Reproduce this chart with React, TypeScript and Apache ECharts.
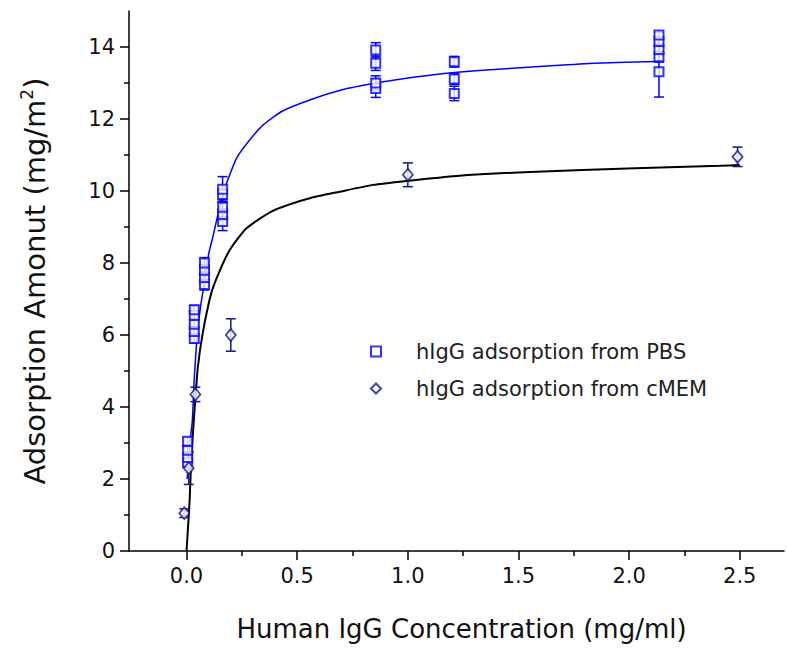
import React, { useEffect, useRef } from "react";
import * as echarts from "echarts";

// ---- Data ----
const pbsX = [0.005, 0.005, 0.005, 0.005, 0.035, 0.035, 0.035, 0.035, 0.035, 0.081, 0.081, 0.081, 0.081, 0.163, 0.163, 0.163, 0.163, 0.163, 0.855, 0.855, 0.855, 0.855, 1.21, 1.21, 1.21, 2.135, 2.135, 2.135, 2.135, 2.135];
const pbsY = [2.45, 2.6, 2.8, 3.05, 5.9, 6.1, 6.3, 6.55, 6.7, 7.4, 7.6, 7.8, 8.0, 9.15, 9.35, 9.55, 9.9, 10.05, 12.85, 13.0, 13.55, 13.92, 12.71, 13.11, 13.59, 13.31, 13.73, 13.93, 14.15, 14.33];
const pbsErr = [0.1, 0.1, 0.1, 0.1, 0.12, 0.12, 0.12, 0.12, 0.12, 0.15, 0.15, 0.15, 0.15, 0.25, 0.15, 0.15, 0.15, 0.35, 0.25, 0.2, 0.2, 0.2, 0.2, 0.15, 0.15, 0.7, 0.15, 0.15, 0.1, 0.08];

const memX = [-0.01, 0.01, 0.04, 0.2, 1.0, 2.49];
const memY = [1.05, 2.3, 4.35, 6.0, 10.45, 10.95];
const memErr = [0.12, 0.45, 0.2, 0.45, 0.33, 0.27];

const blueFitX = [0.003, 0.015, 0.026, 0.036, 0.05, 0.066, 0.085, 0.1, 0.12, 0.142, 0.165, 0.18, 0.225, 0.27, 0.345, 0.436, 0.557, 0.707, 0.858, 0.994, 1.145, 1.356, 1.628, 1.846, 2.13];
const blueFitY = [2.0, 3.0, 3.6, 4.9, 6.1, 6.9, 7.6, 8.25, 8.75, 9.35, 9.9, 10.2, 10.9, 11.3, 11.83, 12.23, 12.53, 12.82, 13.0, 13.13, 13.25, 13.36, 13.47, 13.55, 13.6];

const blackFitX = [0, 0.014, 0.021, 0.036, 0.051, 0.074, 0.112, 0.149, 0.195, 0.27, 0.39, 0.557, 0.692, 0.843, 0.994, 1.22, 1.552, 2.027, 2.412, 2.5];
const blackFitY = [0, 1.4, 2.5, 3.9, 5.1, 6.08, 7.17, 7.77, 8.36, 8.96, 9.45, 9.8, 9.98, 10.17, 10.28, 10.42, 10.53, 10.63, 10.7, 10.72];

const xTickLabels = [0, 0.5, 1, 1.5, 2, 2.5];
const xMinorTicks = [0.25, 0.75, 1.25, 1.75, 2.25];
const yTickLabels = [0, 2, 4, 6, 8, 10, 12, 14];
const yMinorTicks = [1, 3, 5, 7, 9, 11, 13];

const FONT = "DejaVu Sans";
const PBS_COLOR = "#0000ff";
const MEM_COLOR = "#14148f";

function zip(xs: number[], ys: number[], es?: number[]) {
  return xs.map((x, i) => (es ? [x, ys[i], es[i]] : [x, ys[i]]));
}

function errorRender(color: string) {
  return (params: any, api: any) => {
    const x = api.value(0);
    const y = api.value(1);
    const e = api.value(2);
    const top = api.coord([x, y + e]);
    const bot = api.coord([x, y - e]);
    const hw = 5;
    const style = { stroke: color, lineWidth: 1.5 };
    return {
      type: "group",
      children: [
        { type: "line", shape: { x1: top[0], y1: top[1], x2: bot[0], y2: bot[1] }, style },
        { type: "line", shape: { x1: top[0] - hw, y1: top[1], x2: top[0] + hw, y2: top[1] }, style },
        { type: "line", shape: { x1: bot[0] - hw, y1: bot[1], x2: bot[0] + hw, y2: bot[1] }, style },
      ],
    };
  };
}

export default function App() {
  const ref = useRef<HTMLDivElement>(null);
  useEffect(() => {
    const chart = echarts.init(ref.current!, null, { renderer: "svg" });
    const axisLabelStyle = { fontFamily: FONT, fontSize: 21, color: "#111" };
    chart.setOption({
      animation: false,
      backgroundColor: "#fff",
      grid: { left: 129, right: 3, top: 11, bottom: 97, containLabel: false },
      xAxis: [
        {
          type: "value",
          min: -0.26,
          max: 2.7,
          position: "bottom",
          axisLine: { show: true, onZero: false, lineStyle: { color: "#000", width: 1.5 } },
          axisTick: { show: true, customValues: xTickLabels, length: 9, lineStyle: { color: "#000", width: 1.5 } },
          axisLabel: { customValues: xTickLabels, formatter: (v: number) => v.toFixed(1), margin: 14, ...axisLabelStyle },
          splitLine: { show: false },
          name: "Human IgG Concentration (mg/ml)",
          nameLocation: "middle",
          nameGap: 65,
          nameTextStyle: { fontFamily: FONT, fontSize: 26, color: "#111", padding: [0, 0, 0, 10] },
        },
        {
          type: "value",
          min: -0.26,
          max: 2.7,
          position: "bottom",
          offset: 0,
          axisLine: { show: false },
          axisTick: { show: true, customValues: xMinorTicks, length: 5, lineStyle: { color: "#000", width: 1.5 } },
          axisLabel: { show: false },
          splitLine: { show: false },
        },
      ],
      yAxis: [
        {
          type: "value",
          min: 0,
          max: 15,
          position: "left",
          axisLine: { show: true, onZero: false, lineStyle: { color: "#000", width: 1.5 } },
          axisTick: { show: true, customValues: yTickLabels, length: 9, lineStyle: { color: "#000", width: 1.5 } },
          axisLabel: { customValues: yTickLabels, margin: 14, ...axisLabelStyle },
          splitLine: { show: false },
          name: "{a|Adsorption Amonut (mg/m}{s|2}{a|)}",
          nameLocation: "middle",
          nameGap: 78,
          nameTextStyle: {
            rich: {
              a: { fontFamily: FONT, fontSize: 29, color: "#111" },
              s: { fontFamily: FONT, fontSize: 17, color: "#111", padding: [0, 0, 16, 0] },
            },
          },
        },
        {
          type: "value",
          min: 0,
          max: 15,
          position: "left",
          offset: 0,
          axisLine: { show: false, onZero: false },
          axisTick: { show: true, customValues: yMinorTicks, length: 5, lineStyle: { color: "#000", width: 1.5 } },
          axisLabel: { show: false },
          splitLine: { show: false },
        },
      ],
      legend: {
        orient: "vertical",
        left: 365,
        top: 336,
        itemWidth: 10,
        itemHeight: 10,
        itemGap: 16,
        data: ["hIgG adsorption from PBS", "hIgG adsorption from cMEM"],
        textStyle: { fontFamily: FONT, fontSize: 21, color: "#222", padding: [0, 0, 0, 30], lineHeight: 21 },
      },
      series: [
        {
          type: "line",
          name: "PBS fit",
          data: zip(blueFitX, blueFitY),
          showSymbol: false,
          smooth: 0.2,
          lineStyle: { color: PBS_COLOR, width: 1.5 },
          itemStyle: { color: PBS_COLOR },
          z: 1,
        },
        {
          type: "line",
          name: "cMEM fit",
          data: zip(blackFitX, blackFitY),
          showSymbol: false,
          smooth: 0.2,
          lineStyle: { color: "#000", width: 2 },
          itemStyle: { color: "#000" },
          z: 2,
        },
        {
          type: "custom",
          name: "PBS err",
          renderItem: errorRender(PBS_COLOR),
          data: zip(pbsX, pbsY, pbsErr),
          z: 3,
        },
        {
          type: "custom",
          name: "cMEM err",
          renderItem: errorRender(MEM_COLOR),
          data: zip(memX, memY, memErr),
          z: 3,
        },
        {
          type: "scatter",
          name: "hIgG adsorption from PBS",
          data: zip(pbsX, pbsY),
          symbol: "rect",
          symbolSize: 9,
          itemStyle: { color: "#fff", borderColor: PBS_COLOR, borderWidth: 2 },
          z: 4,
        },
        {
          type: "scatter",
          name: "hIgG adsorption from cMEM",
          data: zip(memX, memY),
          symbol: "diamond",
          symbolSize: [10, 12],
          itemStyle: { color: "#fff", borderColor: MEM_COLOR, borderWidth: 1.8 },
          z: 4,
        },
      ],
    });
    return () => chart.dispose();
  }, []);
  return <div ref={ref} style={{ position: "absolute", left: 0, top: 0, width: 787, height: 648 }} />;
}
